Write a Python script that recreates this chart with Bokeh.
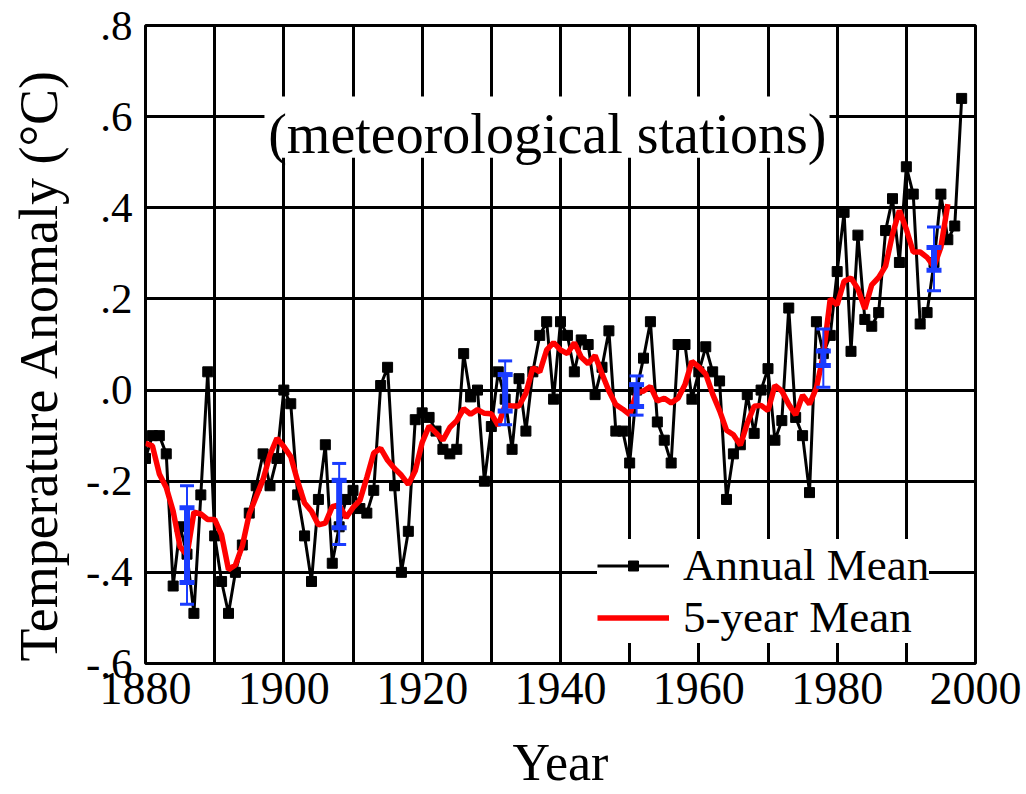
import pandas as pd
from bokeh.plotting import figure
from bokeh.models import (FixedTicker, Legend, LegendItem, Whisker, TeeHead,
                          ColumnDataSource, BoxAnnotation, Label, Range1d)
from bokeh.embed import file_html
from bokeh.resources import INLINE

# ---- data -------------------------------------------------------------
years = list(range(1880, 1999))
annual_mean = [
    -0.15, -0.10, -0.10, -0.14, -0.43, -0.30, -0.36, -0.49, -0.23, 0.04,   # 1880s
    -0.32, -0.42, -0.49, -0.40, -0.34, -0.27, -0.21, -0.14, -0.21, -0.15,  # 1890s
    0.00, -0.03, -0.23, -0.32, -0.42, -0.24, -0.12, -0.38, -0.30, -0.24,   # 1900s
    -0.22, -0.26, -0.27, -0.22, 0.01, 0.05, -0.21, -0.40, -0.31, -0.065,   # 1910s
    -0.05, -0.06, -0.09, -0.13, -0.14, -0.13, 0.08, -0.015, 0.00, -0.20,   # 1920s
    -0.08, 0.04, -0.02, -0.13, 0.025, -0.09, 0.04, 0.12, 0.15, -0.02,      # 1930s
    0.15, 0.12, 0.04, 0.11, 0.10, -0.01, 0.05, 0.13, -0.09, -0.09,         # 1940s
    -0.16, 0.00, 0.07, 0.15, -0.07, -0.11, -0.16, 0.10, 0.10, -0.02,       # 1950s
    0.04, 0.095, 0.04, 0.02, -0.24, -0.14, -0.12, -0.01, -0.095, 0.00,     # 1960s
    0.047, -0.11, -0.067, 0.18, -0.06, -0.10, -0.225, 0.15, 0.08, 0.12,    # 1970s
    0.26, 0.39, 0.085, 0.34, 0.155, 0.14, 0.17, 0.35, 0.42, 0.28,          # 1980s
    0.49, 0.43, 0.145, 0.17, 0.28, 0.43, 0.33, 0.36, 0.64,                 # 1990s
]

# uncertainty estimates (two widths) at selected years
err_years = [1886, 1908, 1932, 1951, 1978, 1994]
err_center = [-0.34, -0.25, -0.006, -0.012, 0.07, 0.288]
err_outer = [0.13, 0.089, 0.07, 0.043, 0.064, 0.07]
err_inner = [0.082, 0.052, 0.04, 0.024, 0.016, 0.025]

x_ticks = [1880, 1900, 1920, 1940, 1960, 1980, 2000]
x_grid = [1880, 1890, 1900, 1910, 1920, 1930, 1940, 1950, 1960, 1970, 1980, 1990, 2000]
y_ticks = [-0.6, -0.4, -0.2, 0.0, 0.2, 0.4, 0.6, 0.8]
y_tick_labels = ["-.6", "-.4", "-.2", ".0", ".2", ".4", ".6", ".8"]

# 5-year running mean of the annual series (last full window ends 1996)
five_year = pd.Series(annual_mean, index=years).rolling(5, center=True, min_periods=3).mean()
five_year = five_year[five_year.index <= 1996]

# ---- figure -------------------------------------------------------------
FONT = "Liberation Serif"
BLUE = "#1a3cff"
NBSP = "\u00a0"

p = figure(width=1026, height=794,
           x_range=Range1d(1880, 2000), y_range=Range1d(-0.6, 0.8),
           output_backend="svg", toolbar_location=None,
           min_border_left=145, min_border_right=51,
           min_border_top=25, min_border_bottom=131)

p.outline_line_color = "black"
p.outline_line_width = 3
p.background_fill_color = "white"
p.border_fill_color = "white"

p.xgrid.ticker = FixedTicker(ticks=x_grid)
p.ygrid.ticker = FixedTicker(ticks=y_ticks)
for g in (p.xgrid, p.ygrid):
    g.grid_line_color = "black"
    g.grid_line_width = 3
    g.grid_line_alpha = 1.0

# white panel behind the caption
p.add_layout(BoxAnnotation(left=1897.2, right=1978.9, bottom=0.51, top=0.644,
                           fill_color="white", fill_alpha=1.0, line_color=None,
                           level="underlay"))

# axes
p.xaxis.ticker = FixedTicker(ticks=x_ticks)
p.yaxis.ticker = FixedTicker(ticks=y_ticks)
p.yaxis.major_label_overrides = {t: s for t, s in zip(y_ticks, y_tick_labels)}
for ax in (p.xaxis, p.yaxis):
    ax.axis_line_color = None
    ax.major_tick_in = 0
    ax.major_tick_out = 0
    ax.minor_tick_in = 0
    ax.minor_tick_out = 0
    ax.major_label_text_font = FONT
    ax.major_label_text_color = "black"
    ax.axis_label_text_font = FONT
    ax.axis_label_text_font_style = "normal"
    ax.axis_label_text_color = "black"

p.xaxis.major_label_text_font_size = "46px"
p.xaxis.major_label_standoff = 9
p.xaxis.axis_label = "Year"
p.xaxis.axis_label_text_font_size = "52px"
p.xaxis.axis_label_standoff = 27

p.yaxis.major_label_text_font_size = "43px"
p.yaxis.major_label_standoff = 13
# trailing no-break spaces nudge the rotated title a little lower on the axis
p.yaxis.axis_label = "Temperature Anomaly (°C)" + NBSP * 3
p.yaxis.axis_label_text_font_size = "54px"
p.yaxis.axis_label_standoff = 14

# series
r_line = p.line(years, annual_mean, line_color="black", line_width=3)
r_pts = p.scatter(years, annual_mean, marker="square", size=10,
                  fill_color="black", line_color="black")
r_five = p.line(list(five_year.index), list(five_year.values),
                line_color="#ff0000", line_width=5.5)

# error bars: wide thin whisker plus narrow thick one
err_src = ColumnDataSource(data=dict(
    x=err_years,
    outer_hi=[c + e for c, e in zip(err_center, err_outer)],
    outer_lo=[c - e for c, e in zip(err_center, err_outer)],
    inner_hi=[c + e for c, e in zip(err_center, err_inner)],
    inner_lo=[c - e for c, e in zip(err_center, err_inner)],
))
p.add_layout(Whisker(source=err_src, base="x", upper="outer_hi", lower="outer_lo",
                     dimension="height", line_color=BLUE, line_width=2, level="overlay",
                     upper_head=TeeHead(size=14, line_color=BLUE, line_width=3),
                     lower_head=TeeHead(size=14, line_color=BLUE, line_width=3)))
p.add_layout(Whisker(source=err_src, base="x", upper="inner_hi", lower="inner_lo",
                     dimension="height", line_color=BLUE, line_width=6, level="overlay",
                     upper_head=TeeHead(size=15, line_color=BLUE, line_width=5),
                     lower_head=TeeHead(size=15, line_color=BLUE, line_width=5)))

# caption
p.add_layout(Label(x=1938.1, y=0.562, text="(meteorological stations)",
                   text_align="center", text_baseline="middle",
                   text_font=FONT, text_font_size="56px", text_color="black"))

legend = Legend(items=[LegendItem(label="Annual Mean", renderers=[r_line, r_pts]),
                       LegendItem(label="5-year Mean", renderers=[r_five])],
                location=(452, 20), orientation="vertical",
                background_fill_color="white", background_fill_alpha=1.0,
                border_line_color=None, padding=0, margin=0, spacing=0,
                glyph_width=72, glyph_height=25, label_height=47, label_standoff=14,
                label_text_font=FONT, label_text_font_size="45px",
                label_text_color="black")
p.add_layout(legend)

open("out.html", "w").write(file_html(p, INLINE))
